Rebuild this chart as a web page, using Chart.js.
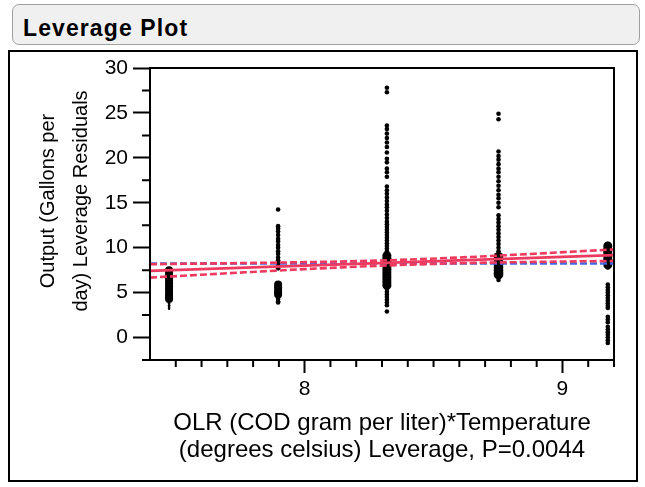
<!DOCTYPE html>
<html>
<head>
<meta charset="utf-8">
<script src="https://cdn.jsdelivr.net/npm/chart.js@4"></script>
<style>
  html, body { margin:0; padding:0; background:#fff; }
  body { width:645px; height:487px; position:relative; overflow:hidden; font-family:"Liberation Sans", Arial, sans-serif; }
  #titlebar { position:absolute; left:12px; top:4px; width:626px; height:39px; border:1.5px solid #a0a0a0; border-radius:7px; background:#f0f0f0; box-sizing:content-box; }
  #titletext { position:absolute; left:10px; top:10px; font-weight:bold; font-size:23px; line-height:26px; letter-spacing:1.1px; color:#000; }
  #frame { position:absolute; left:8px; top:50px; width:626px; height:428px; border:2px solid #000; }
  #chart { position:absolute; left:0; top:0; }
  #ytitle { position:absolute; width:280px; height:66px; left:-76.5px; top:168px; line-height:33px; font-size:20px; text-align:center; transform:rotate(-90deg); transform-origin:50% 50%; color:#000; white-space:nowrap; }
</style>
</head>
<body>
<div id="titlebar"><div id="titletext">Leverage Plot</div></div>
<div id="frame"></div>
<canvas id="chart" width="645" height="487"></canvas>
<div id="ytitle">Output (Gallons per<br>day) Leverage Residuals</div>
<script>
// ---- axis ticks ----
const xMajorTicks = [8, 9];
const xMinorTicks = [7.5, 7.6, 7.7, 7.8, 7.9, 8.1, 8.2, 8.3, 8.4, 8.5, 8.6, 8.7, 8.8, 8.9, 9.1, 9.2];
const yMajorTicks = [0, 5, 10, 15, 20, 25, 30];
const yMinorTicks = [-2.5, 2.5, 7.5, 12.5, 17.5, 22.5, 27.5];

// ---- column x positions (leverage values) ----
const colX = [7.474, 7.897, 8.319, 8.752, 9.176];

// ---- residual points per column: spine (single points) and dense core ----
const col1Core = [7.5, 7.2, 6.9, 6.6, 6.3, 6.0, 5.7, 5.4, 5.1, 4.8, 4.5, 4.3];
const col1Tail = [4.0, 3.8, 3.6, 3.4, 3.2];

const col2Spine = [14.25, 12.4, 12.1, 11.8, 11.4, 11.0, 10.7, 10.3, 10.0, 9.6, 9.3, 8.9, 8.6, 8.2, 7.9, 7.7, 4.6, 4.3, 4.0, 3.9];
const col2Core = [5.9, 5.6, 5.3, 5.0, 4.8];

const col3Spine = [27.8, 27.3, 23.6, 23.2, 22.7, 22.2, 21.7, 21.2, 20.6, 19.9, 19.5, 18.8, 18.4, 17.9,
  16.8, 16.4, 16.0, 15.6, 15.2, 14.8, 14.5, 14.1, 13.7, 13.3, 12.9, 12.6, 12.3, 12.0, 11.7, 11.4,
  11.1, 10.8, 10.5, 10.2, 9.9, 9.6, 9.3, 5.4, 5.1, 4.8, 4.5, 4.2, 3.9, 3.6, 2.9];
const col3Core = [9.1, 8.8, 8.5, 8.2, 7.9, 7.6, 7.3, 7.0, 6.7, 6.4, 6.1, 5.8];

const col4Spine = [24.9, 24.3, 20.7, 20.2, 19.8, 19.3, 18.8, 18.4, 17.9, 17.4, 16.9, 16.4, 15.9, 15.5,
  15.0, 14.5, 13.6, 13.2, 12.8, 12.4, 12.0, 11.6, 11.2, 10.8, 10.4, 10.0, 9.6, 6.7, 6.4];
const col4Core = [9.0, 8.7, 8.4, 8.1, 7.8, 7.5, 7.2, 7.0];

const col5Spine = [10.4, 7.8, 5.9, 5.6, 5.3, 5.0, 4.7, 4.4, 4.1, 3.8, 3.5, 3.3, 2.3, 2.0, 1.7, 1.2, 0.9, 0.6, 0.3, 0.0, -0.3, -0.6];
const col5Core = [10.2, 9.9, 9.6, 9.3, 9.0, 8.7, 8.4, 8.1];

// ---- fit line, mean line and confidence curves ----
const fitX = [7.4, 9.2];
const fitY = [7.42, 9.17];
const meanX = [7.4, 9.2];
const meanY = [8.24, 8.24];
const bandX = [7.4, 7.7, 8.0, 8.3, 8.6, 8.9, 9.2];
const bandUpper = [8.16, 8.27, 8.39, 8.58, 8.91, 9.34, 9.81];
const bandLower = [6.67, 7.15, 7.61, 8.00, 8.27, 8.42, 8.53];

const RED = 'rgb(238,58,94)';
const BLUE = 'rgb(66,104,228)';

function pts(x, ys) { return ys.map(y => ({x: x, y: y})); }
function xy(xs, ys) { return xs.map((x, i) => ({x: x, y: ys[i]})); }

function lineDS(data, color, dash, smooth) {
  return { type: 'line', data: data, borderColor: color, borderWidth: 2.6, borderDash: dash,
    pointRadius: 0, fill: false, tension: smooth ? 0.4 : 0, cubicInterpolationMode: smooth ? 'monotone' : 'default' };
}
function dotDS(data, r) {
  return { type: 'scatter', data: data, pointRadius: r, pointHoverRadius: r, pointStyle: 'circle',
    backgroundColor: '#000', borderColor: '#000', borderWidth: 0 };
}

const datasets = [
  lineDS(xy(fitX, fitY), RED, [], false),
  lineDS(xy(bandX, bandUpper), RED, [7, 3], true),
  lineDS(xy(bandX, bandLower), RED, [7, 3], true),
  lineDS(xy(meanX, meanY), BLUE, [7, 3], false),
  dotDS(pts(colX[0], col1Core), 4),
  dotDS(pts(colX[0], col1Tail), 1.3),
  dotDS(pts(colX[1], col2Spine), 2.3),
  dotDS(pts(colX[1], col2Core), 4),
  dotDS(pts(colX[2], col3Spine), 2.3),
  dotDS(pts(colX[2], col3Core), 4.5),
  dotDS(pts(colX[3], col4Spine), 2.3),
  dotDS(pts(colX[3], col4Core), 4.8),
  dotDS(pts(colX[4], col5Spine), 2.3),
  dotDS(pts(colX[4], col5Core), 4.5)
];

const frameAndMinor = {
  id: 'frameAndMinor',
  afterDraw(chart) {
    const {ctx, chartArea: a, scales: {x, y}} = chart;
    ctx.save();
    ctx.strokeStyle = '#000';
    ctx.lineWidth = 2;
    ctx.beginPath();
    yMinorTicks.forEach(v => { const p = y.getPixelForValue(v); ctx.moveTo(a.left - 8, p); ctx.lineTo(a.left, p); });
    xMinorTicks.forEach(v => { const p = x.getPixelForValue(v); ctx.moveTo(p, a.bottom); ctx.lineTo(p, a.bottom + 7); });
    ctx.stroke();
    ctx.strokeRect(a.left, a.top, a.right - a.left, a.bottom - a.top);
    ctx.restore();
  }
};

new Chart(document.getElementById('chart'), {
  type: 'scatter',
  data: { datasets },
  options: {
    responsive: false,
    animation: false,
    devicePixelRatio: 1,
    layout: { padding: { left: 10, right: 31, top: 68, bottom: 10 } },
    plugins: { legend: { display: false }, tooltip: { enabled: false } },
    scales: {
      x: {
        type: 'linear', min: 7.4, max: 9.2,
        afterBuildTicks: s => { s.ticks = xMajorTicks.map(v => ({value: v})); },
        afterFit: s => { s.height = 117; },
        ticks: { color: '#000', font: { family: '"Liberation Sans", Arial', size: 21 }, padding: 4, maxRotation: 0 },
        grid: { drawOnChartArea: false, tickLength: 13, tickWidth: 2, tickColor: '#000' },
        border: { color: '#000', width: 2 },
        title: { display: true, text: ['OLR (COD gram per liter)*Temperature', '(degrees celsius) Leverage, P=0.0044'],
          color: '#000', font: { family: '"Liberation Sans", Arial', size: 24, lineHeight: '27px' }, padding: { top: 0, bottom: 13.5 } }
      },
      y: {
        type: 'linear', min: -2.5, max: 30,
        afterBuildTicks: s => { s.ticks = yMajorTicks.map(v => ({value: v})); },
        afterFit: s => { s.width = 140; },
        ticks: { color: '#000', font: { family: '"Liberation Sans", Arial', size: 21 }, padding: 5 },
        grid: { drawOnChartArea: false, tickLength: 17, tickWidth: 2, tickColor: '#000' },
        border: { color: '#000', width: 2 }
      }
    }
  },
  plugins: [frameAndMinor]
});
</script>
</body>
</html>
